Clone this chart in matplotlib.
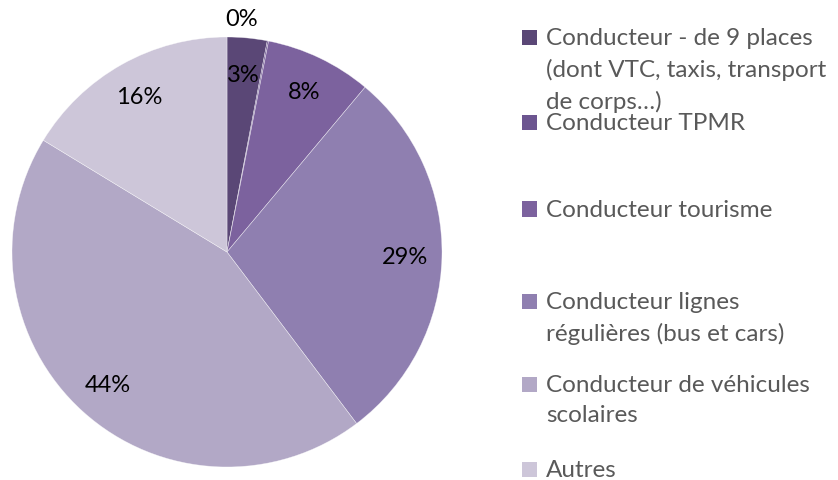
import matplotlib
matplotlib.use("Agg")
import matplotlib.pyplot as plt
from matplotlib.patches import Rectangle
import numpy as np

plt.rcParams["font.family"] = ["Lato", "DejaVu Sans"]

categories = [
    "Conducteur - de 9 places\n(dont VTC, taxis, transport\nde corps…)",
    "Conducteur TPMR",
    "Conducteur tourisme",
    "Conducteur lignes\nrégulières (bus et cars)",
    "Conducteur de véhicules\nscolaires",
    "Autres",
]
shares = [3.0, 0.1, 8.0, 28.6, 44.0, 16.3]
colors = ["#5a4776", "#6c5590", "#7c629e", "#8f7fb0", "#b2a8c6", "#cdc6d9"]

# legend rows (first-line centre, pixels from top) as in the original layout
legend_rows = [38, 123, 210, 302, 385, 470]

W, H = 838, 481
fig = plt.figure(figsize=(W / 100, H / 100), dpi=100)
ax = fig.add_axes([12 / W, 13 / H, 430 / W, 430 / H])

wedges, texts, autotexts = ax.pie(
    shares,
    colors=colors,
    startangle=90,
    counterclock=False,
    radius=1,
    autopct=lambda p: f"{p:.0f}%",
    pctdistance=0.83,
    wedgeprops={"edgecolor": (1, 1, 1, 0.6), "linewidth": 0.4},
    textprops={"fontsize": 17, "color": "black"},
)
ax.set_xlim(-1, 1)
ax.set_ylim(-1, 1)
ax.set_aspect("equal")
ax.axis("off")

# tiny slice: its label sits outside, above the pie
for w, t, v in zip(wedges, autotexts, shares):
    if v < 1:
        a = np.deg2rad(86.5)
        t.set_position((1.09 * np.cos(a), 1.09 * np.sin(a)))

for lab, col, y in zip(categories, colors, legend_rows):
    fig.add_artist(Rectangle((522 / W, 1 - (y + 7.5) / H), 15 / W, 15 / H,
                             transform=fig.transFigure, facecolor=col,
                             edgecolor="none"))
    fig.text(546 / W, 1 - (y - 10) / H, lab, ha="left", va="top",
             fontsize=17.5, color="#595959", linespacing=1.55)

fig.savefig("out.png", dpi=100)
